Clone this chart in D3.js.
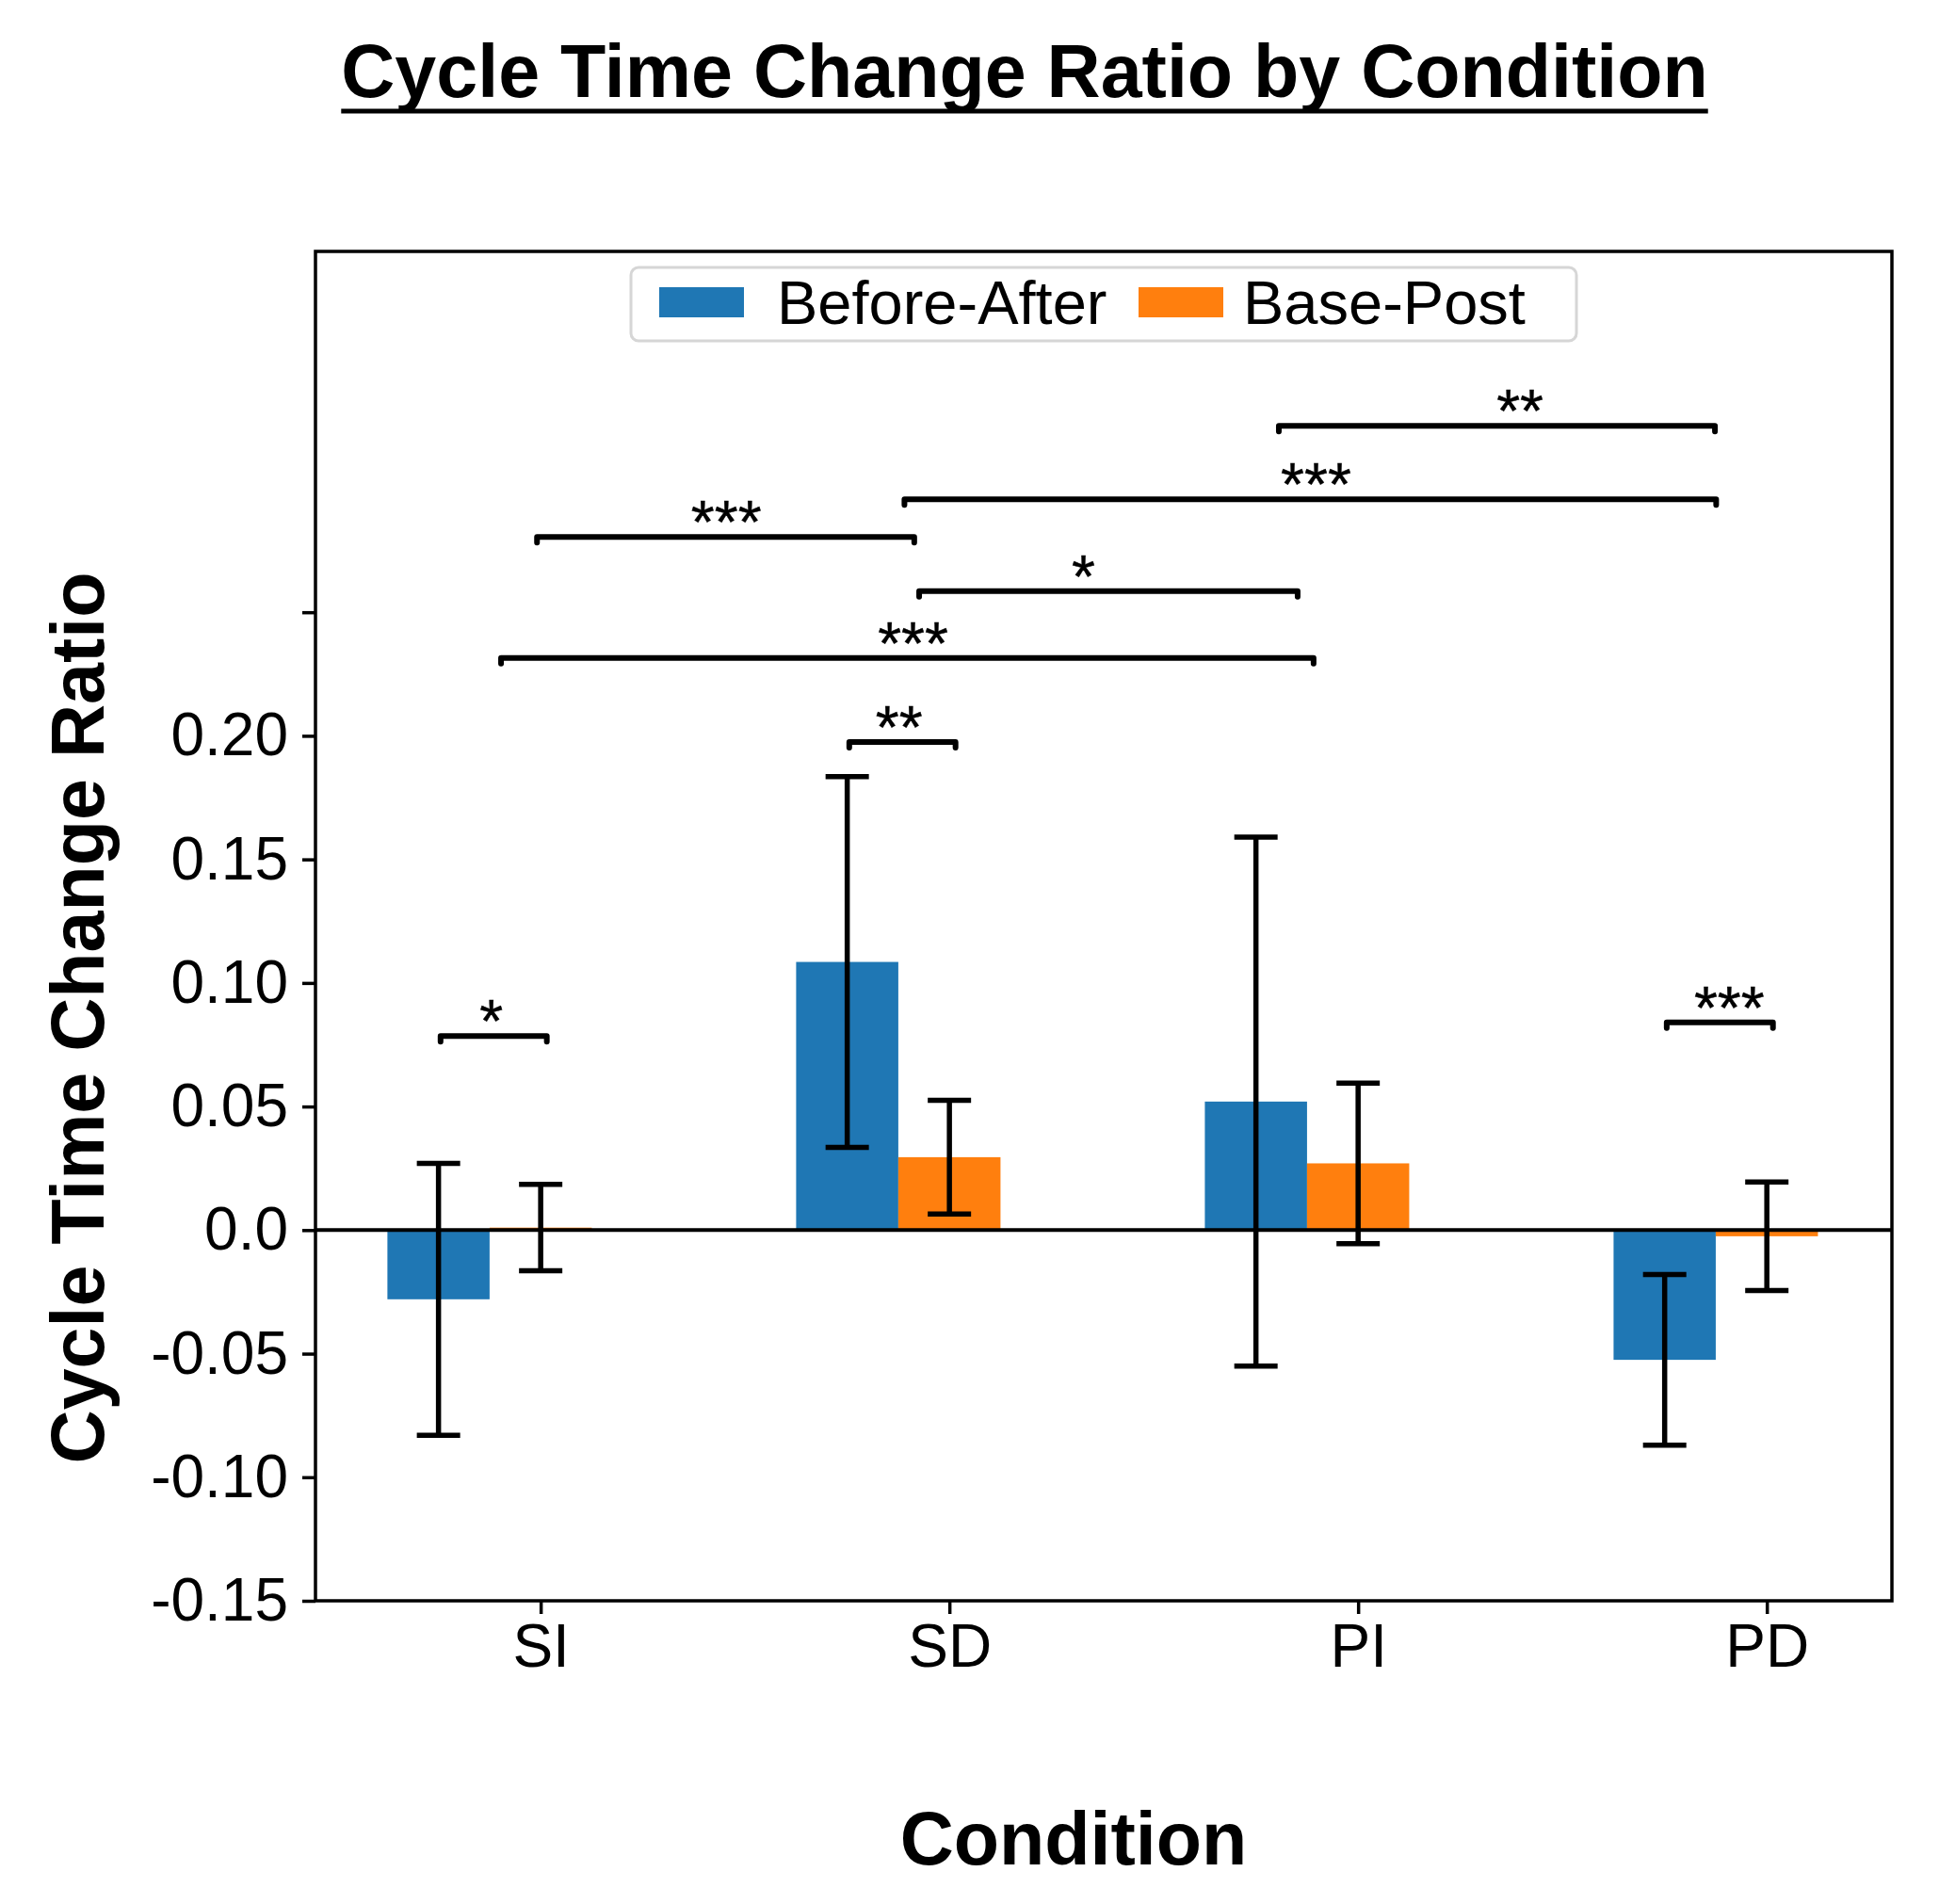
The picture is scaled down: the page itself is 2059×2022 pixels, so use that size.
<!DOCTYPE html>
<html>
<head>
<meta charset="utf-8">
<script src="https://cdn.jsdelivr.net/npm/d3@7"></script>
<style>
  html, body { margin: 0; padding: 0; background: #fff; }
  svg { display: block; font-family: "Liberation Sans", Arial, sans-serif; }
</style>
</head>
<body>
<svg id="chart"></svg>
<script>
"use strict";

// ── Data ─────────────────────────────────────────────────────────────────────
const categories = ["SI", "SD", "PI", "PD"];
const seriesNames = ["Before-After", "Base-Post"];
const beforeAfter = [-0.028, 0.1085, 0.052, -0.0525];
const beforeAfterErr = [0.055, 0.075, 0.107, 0.0345];
const basePost = [0.001, 0.0295, 0.027, -0.0025];
const basePostErr = [0.0175, 0.023, 0.0325, 0.022];

const yTicks = [-0.15, -0.10, -0.05, 0.0, 0.05, 0.10, 0.15, 0.20, 0.25];
const yTickLabels = ["-0.15", "-0.10", "-0.05", "0.0", "0.05", "0.10", "0.15", "0.20", ""];

// significance brackets: x in category units, y in data units
const brackets = [
  { x1: -0.245, x2: 0.015, lx: -0.121, y: 0.0785, label: "*" },
  { x1: 0.755, x2: 1.015, lx: 0.877, y: 0.1975, label: "**" },
  { x1: 2.755, x2: 3.015, lx: 2.908, y: 0.084, label: "***" },
  { x1: -0.097, x2: 1.891, lx: 0.911, y: 0.2315, label: "***" },
  { x1: 0.926, x2: 1.852, lx: 1.328, y: 0.2585, label: "*" },
  { x1: -0.009, x2: 0.914, lx: 0.454, y: 0.2805, label: "***" },
  { x1: 0.89, x2: 2.876, lx: 1.897, y: 0.2957, label: "***" },
  { x1: 1.806, x2: 2.873, lx: 2.396, y: 0.3254, label: "**" }
];

// ── Layout ───────────────────────────────────────────────────────────────────
const W = 2059, H = 2022;
const plot = { left: 335, right: 2009, top: 267, bottom: 1700 };
const colors = ["#1f77b4", "#ff7f0e"];
const barW = 0.25;

const svg = d3.select("#chart").attr("width", W).attr("height", H);

const x = d3.scaleLinear().domain([-0.551, 3.306]).range([plot.left, plot.right]);
const y = d3.scaleLinear().domain([-0.15, 0.396]).range([plot.bottom, plot.top]);

// ── Bars ─────────────────────────────────────────────────────────────────────
const series = [
  { name: seriesNames[0], values: beforeAfter, errs: beforeAfterErr, offset: -barW, color: colors[0] },
  { name: seriesNames[1], values: basePost, errs: basePostErr, offset: 0, color: colors[1] }
];

const bars = svg.append("g");
series.forEach(s => {
  bars.selectAll(null)
    .data(s.values)
    .enter().append("rect")
    .attr("x", (d, i) => x(i + s.offset - barW / 2))
    .attr("width", x(barW) - x(0))
    .attr("y", d => y(Math.max(0, d)))
    .attr("height", d => Math.abs(y(d) - y(0)))
    .attr("fill", s.color);
});

// zero line
svg.append("line")
  .attr("x1", plot.left).attr("x2", plot.right)
  .attr("y1", y(0)).attr("y2", y(0))
  .attr("stroke", "#000").attr("stroke-width", 4);

// ── Error bars ───────────────────────────────────────────────────────────────
const capHalf = 23;
const errG = svg.append("g").attr("stroke", "#000").attr("stroke-width", 5.5);
series.forEach(s => {
  s.values.forEach((v, i) => {
    const cx = x(i + s.offset);
    const lo = y(v - s.errs[i]), hi = y(v + s.errs[i]);
    errG.append("line").attr("x1", cx).attr("x2", cx).attr("y1", lo).attr("y2", hi);
    errG.append("line").attr("x1", cx - capHalf).attr("x2", cx + capHalf).attr("y1", lo).attr("y2", lo);
    errG.append("line").attr("x1", cx - capHalf).attr("x2", cx + capHalf).attr("y1", hi).attr("y2", hi);
  });
});

// ── Significance brackets ────────────────────────────────────────────────────
const brG = svg.append("g");
brackets.forEach(b => {
  const x1 = x(b.x1), x2 = x(b.x2), yy = y(b.y);
  brG.append("path")
    .attr("d", `M${x1},${yy + 6}L${x1},${yy}L${x2},${yy}L${x2},${yy + 6}`)
    .attr("fill", "none")
    .attr("stroke", "#000")
    .attr("stroke-width", 6)
    .attr("stroke-linejoin", "round")
    .attr("stroke-linecap", "round");
  brG.append("text")
    .attr("x", x(b.lx))
    .attr("y", yy + 7)
    .attr("text-anchor", "middle")
    .attr("font-size", 64)
    .attr("stroke", "#000")
    .attr("stroke-width", 0.4)
    .text(b.label);
});

// ── Axes ─────────────────────────────────────────────────────────────────────
const yAxis = svg.append("g")
  .attr("transform", `translate(${plot.left},0)`)
  .call(d3.axisLeft(y).tickValues(yTicks)
    .tickFormat((d, i) => yTickLabels[i])
    .tickSize(14).tickPadding(15));

const xAxis = svg.append("g")
  .attr("transform", `translate(0,${plot.bottom})`)
  .call(d3.axisBottom(x).tickValues(categories.map((c, i) => i))
    .tickFormat((d, i) => categories[i])
    .tickSize(14).tickPadding(11));

[yAxis, xAxis].forEach(a => {
  a.select(".domain").remove();
  a.selectAll(".tick line").attr("stroke", "#000").attr("stroke-width", 3.5);
  a.selectAll(".tick text")
    .attr("fill", "#000")
    .attr("font-size", 64)
    .attr("font-family", "Liberation Sans, Arial, sans-serif");
});

// frame
svg.append("rect")
  .attr("x", plot.left).attr("y", plot.top)
  .attr("width", plot.right - plot.left).attr("height", plot.bottom - plot.top)
  .attr("fill", "none").attr("stroke", "#000").attr("stroke-width", 3.5);

// ── Legend ───────────────────────────────────────────────────────────────────
const leg = svg.append("g");
leg.append("rect")
  .attr("x", 670).attr("y", 284)
  .attr("width", 1004).attr("height", 78)
  .attr("rx", 8)
  .attr("fill", "#fff")
  .attr("stroke", "#d6d6d6").attr("stroke-width", 3);

const legPatchX = [700, 1209];
const legTextX = [825, 1320];
series.forEach((s, i) => {
  leg.append("rect")
    .attr("x", legPatchX[i]).attr("y", 305)
    .attr("width", 90).attr("height", 32)
    .attr("fill", s.color);
  leg.append("text")
    .attr("x", legTextX[i]).attr("y", 344)
    .attr("font-size", 65)
    .text(s.name);
});

// ── Titles ───────────────────────────────────────────────────────────────────
const title = svg.append("text")
  .attr("x", 1088).attr("y", 103)
  .attr("text-anchor", "middle")
  .attr("font-size", 79)
  .attr("font-weight", "bold")
  .text("Cycle Time Change Ratio by Condition");

const tb = title.node().getBBox();
svg.append("line")
  .attr("x1", tb.x).attr("x2", tb.x + tb.width)
  .attr("y1", 118).attr("y2", 118)
  .attr("stroke", "#000").attr("stroke-width", 5);

svg.append("text")
  .attr("transform", `translate(110,1081) rotate(-90)`)
  .attr("text-anchor", "middle")
  .attr("font-size", 79)
  .attr("font-weight", "bold")
  .text("Cycle Time Change Ratio");

svg.append("text")
  .attr("x", 1140).attr("y", 1980)
  .attr("text-anchor", "middle")
  .attr("font-size", 79)
  .attr("font-weight", "bold")
  .text("Condition");
</script>
</body>
</html>
